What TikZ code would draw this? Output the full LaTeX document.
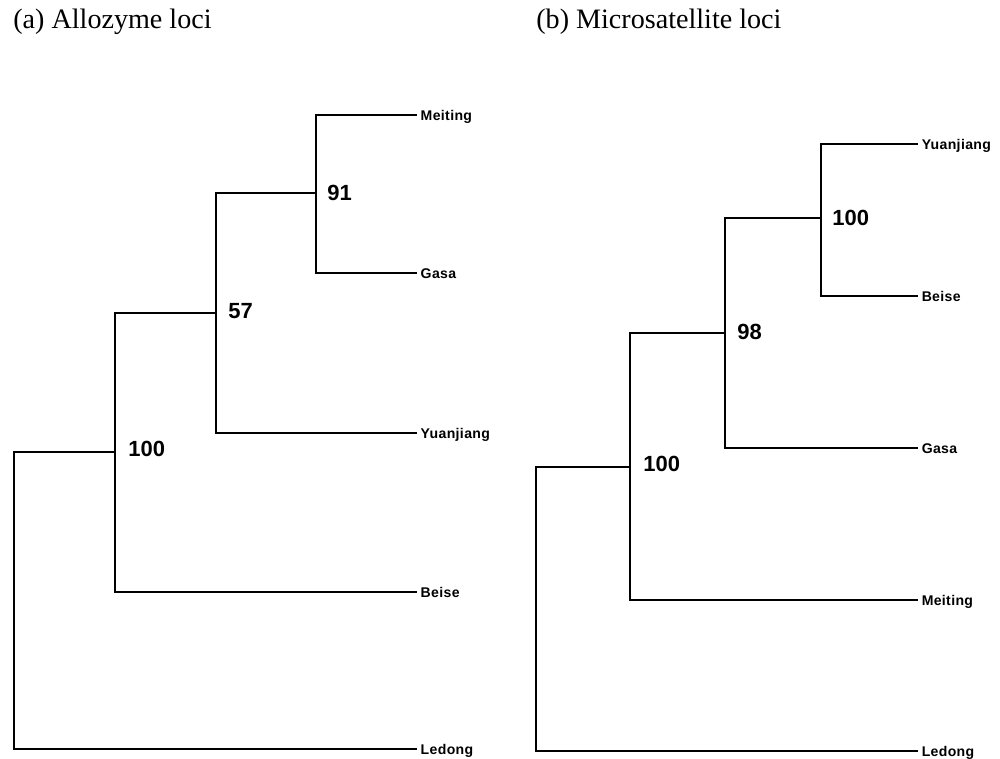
\documentclass[tikz,border=0pt]{standalone}
\usepackage{fontspec}
\setmainfont{Liberation Serif}
\setsansfont{Liberation Sans}
\newfontfamily\leaffont[LetterSpace=2.5]{Liberation Sans}
\usepackage{tikz}

\begin{document}
\begin{tikzpicture}[
  x=0.02cm, y=-0.02cm,
  branch/.style={line width=1pt, line cap=rect},
  taxon/.style={anchor=west, inner sep=2.5pt, text height=5.8pt, text depth=0pt,
                font=\leaffont\bfseries\fontsize{8}{9.6}\selectfont},
  boot/.style={anchor=west, inner sep=0pt, text height=9pt, text depth=0pt,
               font=\sffamily\bfseries\fontsize{12.5}{14}\selectfont},
  panel/.style={anchor=base west, inner sep=0pt, font=\fontsize{16}{19}\selectfont}
]
\useasboundingbox (0,0) rectangle (1000,759);

\node[panel] (titleA) at (13,29) {(a) Allozyme loci};
\node[panel] (titleB) at (536,29) {(b) Microsatellite loci};

% (a) allozyme tree
\coordinate (aRoot) at (14,600);
\coordinate (aN100) at (115,452);
\coordinate (aN57) at (216,313);
\coordinate (aN91) at (316,193);
\node[taxon] (aMeiting) at (416,115) {Meiting};
\node[taxon] (aGasa) at (416,273) {Gasa};
\node[taxon] (aYuanjiang) at (416,433) {Yuanjiang};
\node[taxon] (aBeise) at (416,592) {Beise};
\node[taxon] (aLedong) at (416,749) {Ledong};

\draw[branch] (aMeiting.west) -| (aN91) |- (aGasa.west);
\draw[branch] (aN91) -| (aN57) |- (aYuanjiang.west);
\draw[branch] (aN57) -| (aN100) |- (aBeise.west);
\draw[branch] (aN100) -| (aRoot) |- (aLedong.west);

\node[boot] (aB91) at ([shift={(11,0)}] aN91) {91};
\node[boot] (aB57) at ([shift={(12,-2)}] aN57) {57};
\node[boot] (aB100) at ([shift={(13,-3)}] aN100) {100};

% (b) microsatellite tree
\coordinate (bRoot) at (536,610);
\coordinate (bN100) at (630,467);
\coordinate (bN98) at (725,333);
\coordinate (bN100t) at (821,218);
\node[taxon] (bYuanjiang) at (917,144) {Yuanjiang};
\node[taxon] (bBeise) at (917,296) {Beise};
\node[taxon] (bGasa) at (917,448) {Gasa};
\node[taxon] (bMeiting) at (917,600) {Meiting};
\node[taxon] (bLedong) at (917,751) {Ledong};

\draw[branch] (bYuanjiang.west) -| (bN100t) |- (bBeise.west);
\draw[branch] (bN100t) -| (bN98) |- (bGasa.west);
\draw[branch] (bN98) -| (bN100) |- (bMeiting.west);
\draw[branch] (bN100) -| (bRoot) |- (bLedong.west);

\node[boot] (bB100t) at ([shift={(11,0)}] bN100t) {100};
\node[boot] (bB98) at ([shift={(12,-1)}] bN98) {98};
\node[boot] (bB100) at ([shift={(13,-3)}] bN100) {100};
\end{tikzpicture}
\end{document}
